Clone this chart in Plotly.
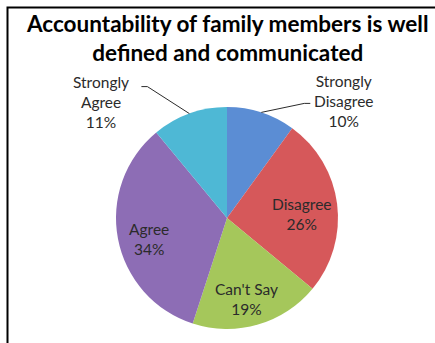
import numpy as np
import plotly.graph_objects as go

# Survey responses
categories = ["Strongly Disagree", "Disagree", "Can't Say", "Agree", "Strongly Agree"]
label_lines = ["Strongly<br>Disagree", "Disagree", "Can't Say", "Agree", "Strongly<br>Agree"]
percents = [10, 26, 19, 34, 11]
colors = ["#5b8dd4", "#d6585a", "#a5c75b", "#8d6db5", "#4eb8d5"]

W, H = 435, 343
CX, CY, R = 227, 218, 111  # pie centre and radius in pixels

fig = go.Figure()

fig.add_trace(go.Pie(
    labels=categories,
    values=percents,
    sort=False,
    direction="clockwise",
    rotation=0,
    marker=dict(colors=colors, line=dict(width=0)),
    textinfo="none",
    hoverinfo="label+percent",
    showlegend=False,
    domain=dict(x=[(CX - R) / W, (CX + R) / W],
                y=[(H - CY - R) / H, (H - CY + R) / H]),
))

# invisible pixel-space axes used for labels and leader lines
fig.add_trace(go.Scatter(x=[0, W], y=[0, H], mode="markers",
                         marker=dict(opacity=0), hoverinfo="skip", showlegend=False))

vals = np.array(percents, dtype=float)
cum = np.concatenate([[0], np.cumsum(vals)]) / vals.sum() * 360.0
mids = np.radians((cum[:-1] + cum[1:]) / 2)

label_font = dict(family="Lato, Calibri, sans-serif", size=15.5, color="#2b2b2b")

# labels placed outside with a leader line: index -> (text offset, elbow offset, line end offset)
outside = {
    0: dict(text=(83, -11), elbow=(43, -9), end=(49, -9)),
    4: dict(text=(-88, -12), elbow=(-42, -27), end=(-48, -27)),
}

annotations = []
shapes = []
for i, (txt, p, a) in enumerate(zip(label_lines, percents, mids)):
    full = f"{txt}<br>{p}%"
    if i in outside:
        ax_ = CX + R * np.sin(a)
        ay_ = CY - R * np.cos(a)
        o = outside[i]
        annotations.append(dict(x=ax_ + o["text"][0], y=ay_ + o["text"][1], xref="x", yref="y",
                                text=full, showarrow=False, font=label_font, align="center"))
        ex, ey = ax_ + o["elbow"][0], ay_ + o["elbow"][1]
        fx, fy = ax_ + o["end"][0], ay_ + o["end"][1]
        shapes.append(dict(type="path", xref="x", yref="y",
                           path=f"M {ax_:.1f} {ay_:.1f} L {ex:.1f} {ey:.1f} L {fx:.1f} {fy:.1f}",
                           line=dict(color="#2b2b2b", width=1)))
    else:
        rr = 0.70 * R
        annotations.append(dict(x=CX + rr * np.sin(a) - 2, y=CY - rr * np.cos(a) + 6,
                                xref="x", yref="y", text=full, showarrow=False,
                                font=label_font, align="center"))

# chart title
annotations.append(dict(x=227, y=38, xref="x", yref="y",
                        text="<b>Accountability of family members is well<br>defined and communicated</b>",
                        showarrow=False, align="center",
                        font=dict(family="Lato, Calibri, sans-serif", size=22.5, color="#000000")))

# chart frame
shapes.append(dict(type="rect", xref="x", yref="y", x0=7.5, y0=7.5, x1=W + 5, y1=H + 5,
                   line=dict(color="#000000", width=2), fillcolor="rgba(0,0,0,0)"))

fig.update_layout(
    width=W, height=H,
    margin=dict(l=0, r=0, t=0, b=0),
    paper_bgcolor="#ffffff", plot_bgcolor="rgba(0,0,0,0)",
    xaxis=dict(range=[0, W], visible=False, fixedrange=True),
    yaxis=dict(range=[H, 0], visible=False, fixedrange=True),
    annotations=annotations,
    shapes=shapes,
)

fig.write_html("out.html")
